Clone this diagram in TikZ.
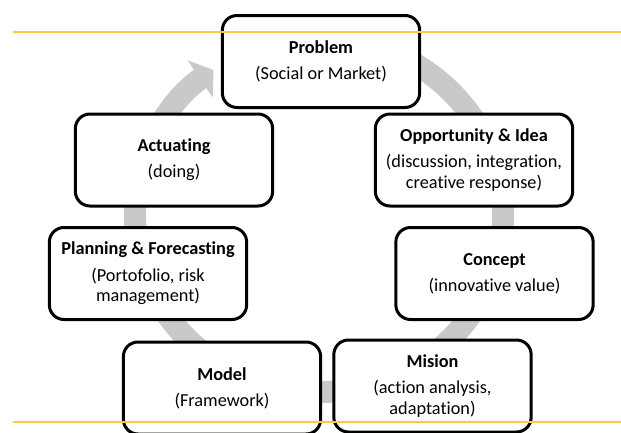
\documentclass[tikz,border=0pt]{standalone}
\usepackage{fontspec}
\setmainfont{Carlito}[Ligatures=NoCommon]
\usepackage{xcolor}
\usetikzlibrary{arrows.meta}
\definecolor{ringgray}{RGB}{201,201,201}
\definecolor{goldline}{RGB}{247,202,72}
\begin{document}
\begin{tikzpicture}[x=0.75pt, y=-0.75pt, box/.style={draw, line width=2.25pt, rounded corners=11pt, fill=white, minimum width=148pt, minimum height=69pt, align=center, inner sep=2pt, font=\fontsize{13.7}{15.6}\selectfont}, ring/.style={draw=ringgray, line width=16.5pt, -{Triangle[length=12pt, width=33pt]}}, rule/.style={draw=goldline, line width=1.3pt}]

\useasboundingbox (0,0) rectangle (621,432);
\clip (0,0) rectangle (621,432);

% cycle arrow behind the boxes
\coordinate (ctr) at (319,215);
\draw[ring] (ctr) ++(-80:184 and 177) arc[start angle=-80, end angle=235, x radius=184, y radius=177];

\node[box] (prob) at (321,61.5) {\textbf{Problem}\\[4pt](Social or Market)};
\node[box] (act) at (174,160) {\textbf{Actuating}\\[4pt](doing)};
\node[box] (opp) at (474,160) {\textbf{Opportunity \& Idea}\\[4pt](discussion, integration,\\creative response)};
\node[box] (plan) at (148,273.5) {\textbf{Planning \& Forecasting}\\[4pt](Portofolio, risk\\management)};
\node[box] (conc) at (494.5,273.5) {\textbf{Concept}\\[4pt](innovative value)};
\node[box] (model) at (222,388) {\textbf{Model}\\[4pt](Framework)};
\node[box] (mis) at (432.5,386) {\textbf{Mision}\\[4pt](action analysis,\\adaptation)};

% guide lines
\coordinate (t0) at (13,32);
\coordinate (t1) at (621,32);
\coordinate (b0) at (13,421.7);
\coordinate (b1) at (621,421.7);
\draw[rule] (t0) -- (t1);
\draw[rule] (b0) -- (b1);

\end{tikzpicture}
\end{document}
